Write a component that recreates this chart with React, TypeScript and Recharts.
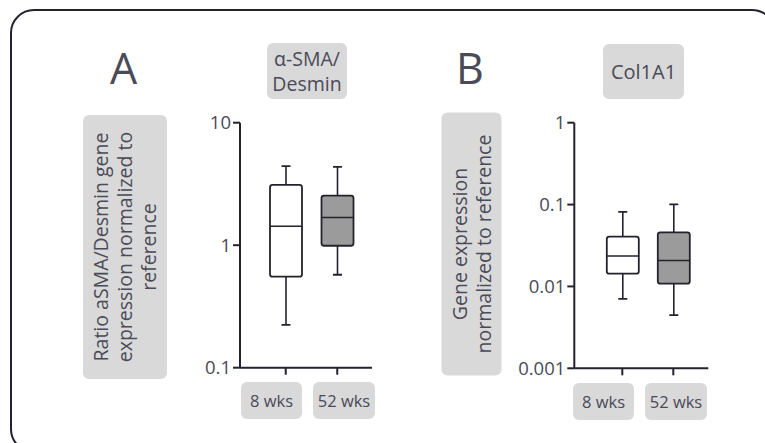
import { Bar, ComposedChart, XAxis, YAxis } from 'recharts';

const groups = ['8 wks', '52 wks'];

// panel A: alpha-SMA / Desmin ratio
const smaMin = [0.224, 0.574];
const smaQ1 = [0.553, 0.99];
const smaMedian = [1.43, 1.68];
const smaQ3 = [3.11, 2.54];
const smaMax = [4.42, 4.36];
const smaTicks = [0.1, 1, 10];

// panel B: Col1A1
const colMin = [0.00703, 0.00445];
const colQ1 = [0.0143, 0.0108];
const colMedian = [0.0236, 0.0207];
const colQ3 = [0.0406, 0.0458];
const colMax = [0.0813, 0.1007];
const colTicks = [0.001, 0.01, 0.1, 1];

const boxFills = ['#ffffff', '#9b9b9b'];
const ink = '#23232f';
const textColor = '#4a4a58';
const labelBg = '#d9d9d9';
const font = '"Open Sans", sans-serif';

const buildRows = (min: number[], q1: number[], med: number[], q3: number[], max: number[]) =>
  groups.map((name, i) => ({
    name,
    min: min[i],
    q1: q1[i],
    median: med[i],
    q3: q3[i],
    max: max[i],
    range: [min[i], max[i]],
  }));

const smaData = buildRows(smaMin, smaQ1, smaMedian, smaQ3, smaMax);
const colData = buildRows(colMin, colQ1, colMedian, colQ3, colMax);

// the bar spans min..max on the log axis; inner points follow the same log mapping
function BoxShape(props: any) {
  const { x, y, width, height, payload, index } = props;
  const top = Math.min(y, y + height);
  const bottom = Math.max(y, y + height);
  const lo = Math.log10(payload.min);
  const hi = Math.log10(payload.max);
  const py = (v: number) => bottom - ((bottom - top) * (Math.log10(v) - lo)) / (hi - lo);
  const cx = x + width / 2;
  const cap = 4.5;
  const yQ1 = py(payload.q1);
  const yQ3 = py(payload.q3);
  const yMed = py(payload.median);
  return (
    <g>
      <line x1={cx} x2={cx} y1={top} y2={yQ3} stroke={ink} strokeWidth={1.6} />
      <line x1={cx} x2={cx} y1={yQ1} y2={bottom} stroke={ink} strokeWidth={1.6} />
      <line x1={cx - cap} x2={cx + cap} y1={top} y2={top} stroke={ink} strokeWidth={1.8} />
      <line x1={cx - cap} x2={cx + cap} y1={bottom} y2={bottom} stroke={ink} strokeWidth={1.8} />
      <rect
        x={x}
        y={yQ3}
        width={width}
        height={yQ1 - yQ3}
        rx={2.5}
        fill={boxFills[index % boxFills.length]}
        stroke={ink}
        strokeWidth={1.8}
      />
      <line x1={x} x2={x + width} y1={yMed} y2={yMed} stroke={ink} strokeWidth={1.5} />
    </g>
  );
}

const noTick = () => <g />;

type PanelProps = {
  data: any[];
  ticks: number[];
  left: number;
  width: number;
  yAxisWidth: number;
  rightMargin: number;
  padLeft: number;
  padRight: number;
  topMargin: number;
  bottomMargin: number;
};

function BoxPanel(p: PanelProps) {
  const domain = [p.ticks[0], p.ticks[p.ticks.length - 1]];
  return (
    <div style={{ position: 'absolute', left: p.left, top: 110 }}>
      <ComposedChart
        width={p.width}
        height={280}
        data={p.data}
        margin={{ top: p.topMargin, right: p.rightMargin, left: 0, bottom: p.bottomMargin }}
      >
        <XAxis
          dataKey="name"
          type="category"
          padding={{ left: p.padLeft, right: p.padRight }}
          height={10}
          tick={noTick}
          tickSize={7}
          axisLine={{ stroke: ink, strokeWidth: 2 }}
          tickLine={{ stroke: ink, strokeWidth: 2 }}
        />
        <XAxis xAxisId="top" orientation="top" height={0} tick={false} tickLine={false} axisLine={{ stroke: ink, strokeWidth: 2 }} />
        <YAxis
          scale="log"
          domain={domain}
          ticks={p.ticks}
          allowDataOverflow
          width={p.yAxisWidth}
          tickSize={7}
          tickFormatter={(v) => String(v)}
          tick={{ fill: textColor, fontSize: 18.5, fontFamily: font }}
          axisLine={{ stroke: ink, strokeWidth: 2 }}
          tickLine={{ stroke: ink, strokeWidth: 2 }}
        />
        <YAxis yAxisId="right" orientation="right" width={0} tick={false} tickLine={false} axisLine={{ stroke: ink, strokeWidth: 2 }} />
        <Bar dataKey="range" barSize={32} shape={BoxShape} isAnimationActive={false} />
      </ComposedChart>
    </div>
  );
}

function GrayLabel({
  left,
  top,
  width,
  height,
  size,
  lines,
  rotate,
  lineHeight,
}: {
  left: number;
  top: number;
  width: number;
  height: number;
  size: number;
  lines: string[];
  rotate?: boolean;
  lineHeight?: number;
}) {
  // rotated labels are laid out unrotated around the same centre, then turned
  const w = rotate ? height : width;
  const h = rotate ? width : height;
  const cx = left + width / 2;
  const cy = top + height / 2;
  return (
    <div
      style={{
        position: 'absolute',
        left: cx - w / 2,
        top: cy - h / 2,
        width: w,
        height: h,
        background: labelBg,
        borderRadius: 6,
        display: 'flex',
        flexDirection: 'column',
        alignItems: 'center',
        justifyContent: 'center',
        transform: rotate ? 'rotate(-90deg)' : undefined,
        color: textColor,
        fontFamily: font,
        fontSize: size,
        lineHeight: `${lineHeight ?? Math.round(size * 1.25)}px`,
        textAlign: 'center',
        whiteSpace: 'nowrap',
      }}
    >
      {lines.map((l) => (
        <div key={l}>{l}</div>
      ))}
    </div>
  );
}

export default function App() {
  return (
    <div
      style={{
        position: 'absolute',
        left: 0,
        top: 0,
        width: 765,
        height: 443,
        overflow: 'hidden',
        background: '#ffffff',
      }}
    >
      <div
        style={{
          position: 'absolute',
          left: 10,
          top: 9,
          width: 762,
          height: 440,
          border: `2px solid ${ink}`,
          borderRadius: 24,
        }}
      />

      <div style={{ position: 'absolute', left: 110, top: 38, fontFamily: font, fontSize: 43, color: textColor, lineHeight: '60px' }}>A</div>
      <div style={{ position: 'absolute', left: 456, top: 38, fontFamily: font, fontSize: 43, color: textColor, lineHeight: '60px' }}>B</div>

      <GrayLabel left={267} top={43} width={80} height={56} size={19.5} lineHeight={25} lines={['α-SMA/', 'Desmin']} />
      <GrayLabel left={603} top={44} width={81} height={55} size={20} lines={['Col1A1']} />

      <GrayLabel
        left={83}
        top={115}
        width={84}
        height={264}
        size={19.5}
        lineHeight={24}
        rotate
        lines={['Ratio aSMA/Desmin gene', 'expression normalized to', 'reference']}
      />
      <GrayLabel
        left={441}
        top={112}
        width={60}
        height={263}
        size={19.5}
        lineHeight={24}
        rotate
        lines={['Gene expression', 'normalized to reference']}
      />

      <BoxPanel
        data={smaData}
        ticks={smaTicks}
        left={180}
        width={200}
        yAxisWidth={60}
        rightMargin={8}
        padLeft={20}
        padRight={9}
        topMargin={12.7}
        bottomMargin={12.3}
      />
      <BoxPanel
        data={colData}
        ticks={colTicks}
        left={505}
        width={212}
        yAxisWidth={69.3}
        rightMargin={8.7}
        padLeft={22.5}
        padRight={9.5}
        topMargin={12.7}
        bottomMargin={11.7}
      />

      <GrayLabel left={241} top={382} width={61} height={37} size={16.5} lines={[groups[0]]} />
      <GrayLabel left={313} top={382} width={62} height={37} size={16.5} lines={[groups[1]]} />
      <GrayLabel left={573} top={383} width={61} height={37} size={16.5} lines={[groups[0]]} />
      <GrayLabel left={645} top={383} width={62} height={37} size={16.5} lines={[groups[1]]} />
    </div>
  );
}
